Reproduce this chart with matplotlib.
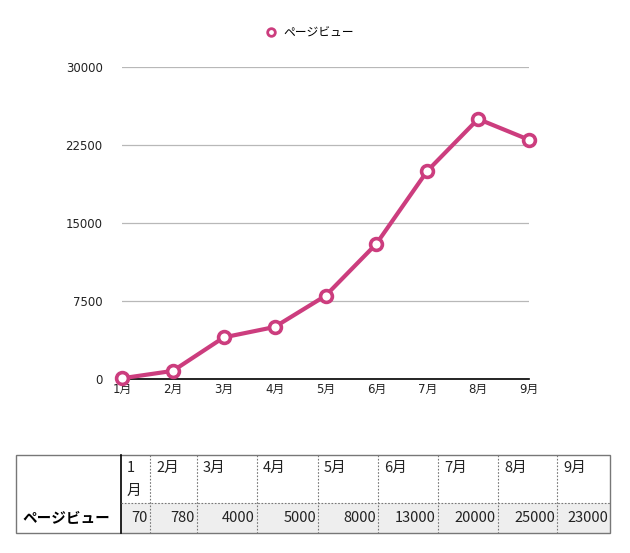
import matplotlib

matplotlib.use("Agg")
import matplotlib.pyplot as plt
from matplotlib.lines import Line2D
from matplotlib.patches import Rectangle

plt.rcParams["font.family"] = ["DejaVu Sans", "Noto Sans CJK JP"]

MONTHS = ["1月", "2月", "3月", "4月", "5月", "6月", "7月", "8月", "9月"]
PAGE_VIEWS = [70, 780, 4000, 5000, 8000, 13000, 20000, 25000, 23000]
SERIES_NAME = "ページビュー"
Y_TICKS = [0, 7500, 15000, 22500, 30000]

LINE_COLOR = "#cc3d7e"
TEXT_COLOR = "#222222"
CJK = ["Noto Sans CJK JP", "DejaVu Sans"]
W, H = 630, 553

fig = plt.figure(figsize=(W / 100, H / 100), dpi=100)
ax = fig.add_axes([122 / W, 1 - 379 / H, (529 - 122) / W, (379 - 67) / H])

xs = list(range(len(MONTHS)))
ax.plot(xs, PAGE_VIEWS, color=LINE_COLOR, lw=3, marker="o", ms=8.5,
        mfc="white", mec=LINE_COLOR, mew=2.6, clip_on=False, zorder=3)

ax.set_xlim(0, len(MONTHS) - 1)
ax.set_ylim(0, 30000)
ax.set_yticks(Y_TICKS)
ax.set_yticklabels([str(v) for v in Y_TICKS], fontsize=8.5, color=TEXT_COLOR)
ax.set_xticks(xs)
ax.set_xticklabels(MONTHS, fontsize=8.5, color=TEXT_COLOR)
ax.tick_params(length=0, pad=3)
ax.tick_params(axis="y", pad=14)
ax.grid(axis="y", color="#b8b8b8", lw=0.9)
ax.set_axisbelow(True)
for s in ["top", "right", "left"]:
    ax.spines[s].set_visible(False)
ax.spines["bottom"].set_color("black")
ax.spines["bottom"].set_linewidth(1.2)

# legend
handle = Line2D([], [], color=LINE_COLOR, lw=0, marker="o", ms=5.5,
                mfc="white", mec=LINE_COLOR, mew=2)
fig.legend([handle], [SERIES_NAME], loc="center", bbox_to_anchor=(310 / W, 1 - 33 / H),
           frameon=False, prop={"family": CJK, "size": 8.5},
           handlelength=0.8, handletextpad=0.6)

# data table drawn in figure pixels
def fx(px):
    return px / W


def fy(py):
    return 1 - py / H


col_edges = [16, 121, 150, 197, 257, 318, 378, 438, 498, 557, 610]
top, mid, bot = 455, 503, 533

fig.add_artist(Rectangle((fx(121), fy(bot)), fx(610) - fx(121), fy(mid) - fy(bot),
                         transform=fig.transFigure, facecolor="#eeeeee", edgecolor="none"))
fig.add_artist(Rectangle((fx(16), fy(bot)), fx(610) - fx(16), fy(top) - fy(bot),
                         transform=fig.transFigure, facecolor="none", edgecolor="#777777", lw=1))
fig.add_artist(Line2D([fx(121), fx(121)], [fy(top), fy(bot)], transform=fig.transFigure,
                      color="black", lw=1.2))
for x in col_edges[2:-1]:
    fig.add_artist(Line2D([fx(x), fx(x)], [fy(top), fy(bot)], transform=fig.transFigure,
                          color="#777777", lw=0.8, ls=(0, (1.5, 1.5))))
fig.add_artist(Line2D([fx(121), fx(610)], [fy(mid), fy(mid)], transform=fig.transFigure,
                      color="#777777", lw=0.8, ls=(0, (1.5, 1.5))))

cell_font = {"family": CJK, "size": 10.5, "color": TEXT_COLOR}
fig.text(fx(22), fy(518), SERIES_NAME, fontsize=10.5, fontweight="bold", family=CJK,
         va="center", ha="left", color="black")
for i, (m, v) in enumerate(zip(MONTHS, PAGE_VIEWS)):
    left, right = col_edges[i + 1], col_edges[i + 2]
    if m == "1月":
        fig.text(fx(left + 6), fy(468), "1", va="center", ha="left", **cell_font)
        fig.text(fx(left + 6), fy(491), "月", va="center", ha="left", **cell_font)
    else:
        fig.text(fx(left + 6), fy(468), m, va="center", ha="left", **cell_font)
    fig.text(fx(right - 2), fy(518), str(v), va="center", ha="right", **cell_font)

fig.savefig("out.png", dpi=100)
